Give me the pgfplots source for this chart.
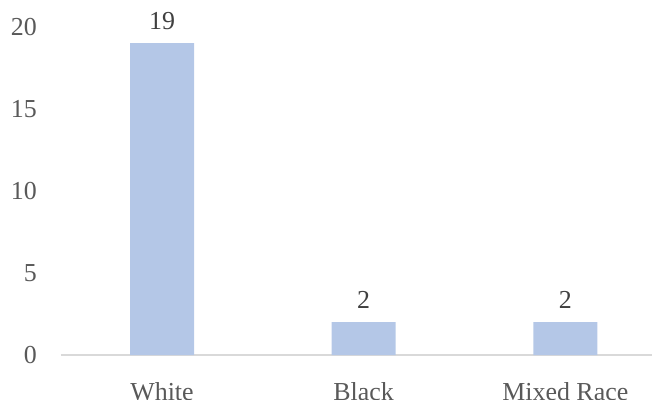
\documentclass[border=0pt]{standalone}
\usepackage{pgfplots}
\pgfplotsset{compat=1.18}
\usepackage{fontspec}
\setmainfont{Liberation Serif}
\definecolor{barblue}{HTML}{B4C7E7}
\definecolor{ticktext}{HTML}{595959}
\definecolor{valtext}{HTML}{404040}
\definecolor{axisgray}{HTML}{D9D9D9}
\begin{document}
\begin{tikzpicture}
\begin{axis}[
  scale only axis,
  width=591bp, height=328.4bp,
  xmin=-0.501, xmax=2.43,
  ymin=0, ymax=20,
  ybar, bar width=64bp,
  bar shift=0pt,
  axis line style={draw=none},
  axis x line*=bottom,
  axis y line=none,
  hide y axis=false,
  ytick={0,5,10,15,20},
  xtick={0,1,2},
  xticklabels={White,Black,Mixed Race},
  major tick length=0pt,
  tick style={draw=none},
  /pgf/number format/assume math mode=true,
  ticklabel style={font=\fontsize{26}{30}\selectfont, text=ticktext, inner sep=0pt},
  yticklabel style={anchor=east, xshift=-24bp},
  xticklabel style={anchor=north, yshift=-27bp},
  clip=false,
  nodes near coords,
  every node near coord/.append style={font=\fontsize{26}{30}\selectfont, text=valtext, anchor=south, inner sep=0pt, yshift=13bp},
]
\draw[axisgray, line width=1.5bp] (axis cs:-0.501,0) -- (axis cs:2.43,0);
\addplot[fill=barblue, draw=none] coordinates {(0,19) (1,2) (2,2)};
\end{axis}
\pgfresetboundingbox
\path (current axis.south west) ++(-61bp,-45bp) rectangle ++(652bp,400bp);
\end{tikzpicture}
\end{document}
